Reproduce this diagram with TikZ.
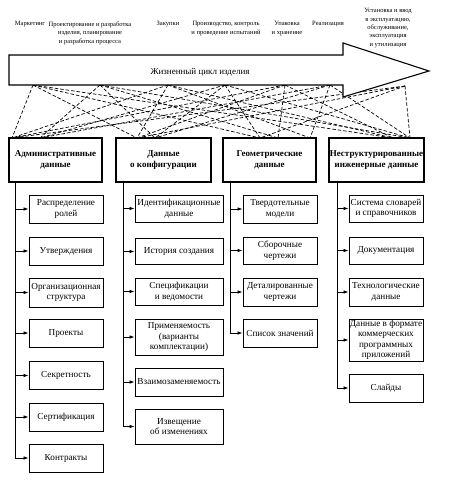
\documentclass[tikz,border=0pt]{standalone}
\usepackage{fontspec}
\setmainfont{Liberation Serif}
\usetikzlibrary{arrows.meta}
\tikzset{
  mainbox/.style={draw, line width=1.6pt, minimum height=44pt, inner sep=0.5pt, align=center,
    font=\bfseries\fontsize{9}{10.5}\selectfont},
  subbox/.style={draw, line width=0.9pt, inner sep=0.5pt, align=center,
    font=\fontsize{9.2}{10.5}\selectfont},
  stagelbl/.style={align=center, font=\fontsize{6.5}{8.4}\selectfont},
  link/.style={line width=0.7pt, dash pattern=on 3.5pt off 2pt},
  spine/.style={line width=0.8pt},
  feed/.style={line width=0.8pt, -{Latex[length=5pt,width=3.6pt]}},
  bigarrow/.style={draw, fill=white, line width=1.1pt, line join=miter}
}
\begin{document}
\begin{tikzpicture}[x=1pt, y=-1pt]
\useasboundingbox (0,0) rectangle (455,481);

% stage labels
\node[stagelbl] (lb1) at (30,24) {Маркетинг};
\node[stagelbl] (lb2) at (90,33) {Проектирование и разработка\\изделия, планирование\\и разработка процесса};
\node[stagelbl] (lb3) at (168,24) {Закупки};
\node[stagelbl] (lb4) at (226,28.5) {Производство, контроль\\и проведение испытаний};
\node[stagelbl] (lb5) at (287,28.5) {Упаковка\\и хранение};
\node[stagelbl] (lb6) at (328,24) {Реализация};
\node[stagelbl] (lb7) at (388,28) {Установка и ввод\\в эксплуатацию,\\обслуживание,\\эксплуатация\\и утилизация};

% stage points and box top points
\coordinate (st1) at (33,85);
\coordinate (st2) at (100,85);
\coordinate (st3) at (168,85);
\coordinate (st4) at (225,85);
\coordinate (st5) at (285,85);
\coordinate (st6) at (330,85);
\coordinate (st7) at (405,86);
\coordinate (ta1) at (12,138);
\coordinate (ta2) at (40,138);
\coordinate (tc1) at (137,138);
\coordinate (tc2) at (155,138);
\coordinate (tg1) at (260,138);
\coordinate (tg2) at (278,138);
\coordinate (tg3) at (310,138);
\coordinate (tu1) at (393,138);
\coordinate (tu2) at (410,138);

\foreach \s/\t in {st1/ta1, st3/ta1, st5/ta1, st7/ta1, st2/ta2, st4/ta2, st6/ta2,
                   st1/tc1, st3/tc1, st5/tc1, st7/tc1, st2/tc2, st4/tc2, st6/tc2,
                   st1/tg1, st4/tg1, st7/tg1, st2/tg2, st5/tg2, st3/tg3, st6/tg3,
                   st1/tu1, st3/tu1, st5/tu1, st2/tu2, st4/tu2, st6/tu2, st7/tu2}
  \draw[link] (\s) -- (\t);

% life cycle arrow
\draw[bigarrow] (9,55) -- (343,55) -- (343,43) -- (429,71) -- (343,97) -- (343,85) -- (9,85) -- cycle;
\node[font=\fontsize{9}{10.5}\selectfont] (lc) at (200,72) {Жизненный цикл изделия};

% main boxes
\node[mainbox, minimum width=93pt, fill=white] (adm) at (55.5,160) {Административные\\данные};
\node[mainbox, minimum width=95pt, fill=white] (cfg) at (163.5,160) {Данные\\о конфигурации};
\node[mainbox, minimum width=93pt, fill=white] (geo) at (269.5,160) {Геометрические\\данные};
\node[mainbox, minimum width=95pt, fill=white] (uns) at (376.5,160) {Неструктурированные\\инженерные данные};

% column 1
\node[subbox, minimum width=74pt, minimum height=28pt] (r1) at (66,209) {Распределение\\ролей};
\node[subbox, minimum width=74pt, minimum height=28pt] (r2) at (66,251) {Утверждения};
\node[subbox, minimum width=74pt, minimum height=29pt] (r3) at (66,292.5) {Организационная\\структура};
\node[subbox, minimum width=74pt, minimum height=28pt] (r4) at (66,333) {Проекты};
\node[subbox, minimum width=74pt, minimum height=28pt] (r5) at (66,375.5) {Секретность};
\node[subbox, minimum width=74pt, minimum height=28pt] (r6) at (66,417) {Сертификация};
\node[subbox, minimum width=74pt, minimum height=28pt] (r7) at (66,458) {Контракты};

% column 2
\node[subbox, minimum width=88pt, minimum height=27pt] (c1) at (179,208.5) {Идентификационные\\данные};
\node[subbox, minimum width=88pt, minimum height=26pt] (c2) at (179,251.5) {История создания};
\node[subbox, minimum width=88pt, minimum height=27pt] (c3) at (179,291.5) {Спецификации\\и ведомости};
\node[subbox, minimum width=88pt, minimum height=36pt] (c4) at (179,337) {Применяемость\\(варианты\\комплектации)};
\node[subbox, minimum width=88pt, minimum height=28pt] (c5) at (179,382) {Взаимозаменяемость};
\node[subbox, minimum width=88pt, minimum height=35pt] (c6) at (179,426.5) {Извещение\\об изменениях};

% column 3
\node[subbox, minimum width=74pt, minimum height=28pt] (g1) at (280,209) {Твердотельные\\модели};
\node[subbox, minimum width=74pt, minimum height=27pt] (g2) at (280,250.5) {Сборочные\\чертежи};
\node[subbox, minimum width=74pt, minimum height=28pt] (g3) at (280,292) {Деталированные\\чертежи};
\node[subbox, minimum width=74pt, minimum height=28pt] (g4) at (280,333) {Список значений};

% column 4
\node[subbox, minimum width=74pt, minimum height=27pt] (u1) at (386,208.5) {Система словарей\\и справочников};
\node[subbox, minimum width=74pt, minimum height=27pt] (u2) at (386,250.5) {Документация};
\node[subbox, minimum width=74pt, minimum height=28pt] (u3) at (386,292) {Технологические\\данные};
\node[subbox, minimum width=74pt, minimum height=42pt] (u4) at (386,340) {Данные в формате\\коммерческих\\программных\\приложений};
\node[subbox, minimum width=74pt, minimum height=28pt] (u5) at (386,388) {Слайды};

% spines
\coordinate (sa) at (15,182);
\coordinate (sc) at (123,182);
\coordinate (sg) at (230,182);
\coordinate (su) at (337,182);

\draw[spine] (sa) -- (sa |- r7.west);
\foreach \b in {r1,r2,r3,r4,r5,r6,r7} \draw[feed] (sa |- \b.west) -- (\b.west);
\draw[spine] (sc) -- (sc |- c6.west);
\foreach \b in {c1,c2,c3,c4,c5,c6} \draw[feed] (sc |- \b.west) -- (\b.west);
\draw[spine] (sg) -- (sg |- g4.west);
\foreach \b in {g1,g2,g3,g4} \draw[feed] (sg |- \b.west) -- (\b.west);
\draw[spine] (su) -- (su |- u5.west);
\foreach \b in {u1,u2,u3,u4,u5} \draw[feed] (su |- \b.west) -- (\b.west);
\end{tikzpicture}
\end{document}
